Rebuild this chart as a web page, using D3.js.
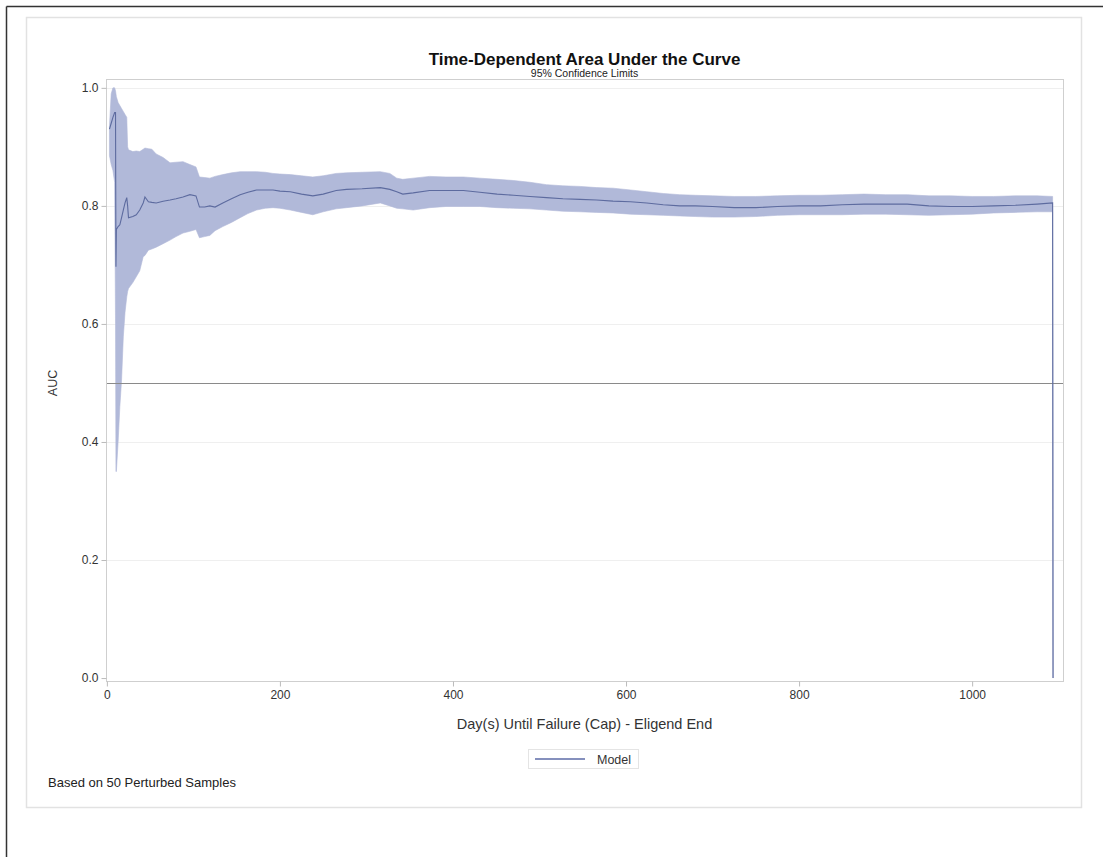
<!DOCTYPE html>
<html>
<head>
<meta charset="utf-8">
<script src="https://cdn.jsdelivr.net/npm/d3@7"></script>
<style>
  body { margin: 0; background: #fff; }
  svg { display: block; font-family: "Liberation Sans", Arial, sans-serif; }
</style>
</head>
<body>
<svg id="chart" width="1103" height="857"></svg>
<script>
// ---- Data ----
const days = [3,5,7,9,10,10.5,11,13,15,17,19,21,23,24,25,30,34,38,42,44,48,52,57,65,73,80,88,96,103,107,113,119,125,134,144,154,163,173,183,192,200,212,225,238,250,265,277,295,316,327,335,342,354,373,392,412,431,451,470,489,508,527,547,566,585,605,624,643,662,680,700,725,750,775,800,825,850,875,900,925,950,975,1000,1025,1050,1075,1093,1093.5];
const auc = [0.93,0.94,0.95,0.958,0.958,0.697,0.76,0.765,0.768,0.78,0.793,0.805,0.814,0.80,0.78,0.782,0.785,0.793,0.805,0.815,0.807,0.806,0.805,0.808,0.81,0.812,0.815,0.819,0.817,0.798,0.798,0.80,0.798,0.805,0.812,0.819,0.823,0.827,0.827,0.827,0.825,0.824,0.82,0.817,0.82,0.826,0.828,0.829,0.831,0.828,0.824,0.82,0.822,0.826,0.826,0.826,0.823,0.82,0.818,0.816,0.814,0.812,0.811,0.81,0.808,0.807,0.805,0.802,0.80,0.80,0.799,0.797,0.797,0.799,0.80,0.80,0.802,0.803,0.803,0.803,0.80,0.799,0.799,0.80,0.801,0.803,0.805,0];
const lower = [0.885,0.87,0.86,0.84,0.60,0.35,0.35,0.40,0.46,0.505,0.578,0.62,0.646,0.655,0.66,0.67,0.68,0.69,0.714,0.716,0.725,0.727,0.73,0.736,0.742,0.748,0.754,0.757,0.76,0.746,0.748,0.75,0.758,0.765,0.772,0.78,0.787,0.793,0.796,0.797,0.796,0.793,0.789,0.785,0.79,0.795,0.797,0.80,0.805,0.80,0.796,0.795,0.793,0.797,0.799,0.799,0.799,0.797,0.796,0.795,0.793,0.791,0.79,0.789,0.788,0.786,0.785,0.784,0.783,0.782,0.781,0.781,0.782,0.784,0.785,0.785,0.785,0.786,0.786,0.785,0.784,0.785,0.786,0.788,0.789,0.79,0.79,0];
const upper = [0.935,0.99,1.0,1.0,0.995,0.99,0.985,0.975,0.97,0.965,0.96,0.955,0.95,0.90,0.895,0.892,0.893,0.892,0.896,0.898,0.897,0.896,0.888,0.882,0.873,0.874,0.875,0.87,0.866,0.849,0.848,0.847,0.85,0.853,0.856,0.858,0.858,0.858,0.857,0.855,0.854,0.853,0.851,0.849,0.851,0.855,0.856,0.857,0.858,0.855,0.847,0.845,0.847,0.85,0.849,0.849,0.847,0.845,0.843,0.84,0.836,0.834,0.833,0.831,0.830,0.827,0.824,0.821,0.819,0.818,0.817,0.816,0.816,0.817,0.818,0.818,0.819,0.82,0.819,0.819,0.817,0.817,0.816,0.816,0.817,0.817,0.816,0];
const xTicks = [0,200,400,600,800,1000];
const yTicks = [0.0,0.2,0.4,0.6,0.8,1.0];
const refLine = [0.5];
const titleText = "Time-Dependent Area Under the Curve";
const subtitleText = "95% Confidence Limits";
const xLabel = "Day(s) Until Failure (Cap) - Eligend End";
const yLabel = "AUC";
const legendLabels = ["Model"];
const footnote = "Based on 50 Perturbed Samples";

// ---- Layout ----
const svg = d3.select("#chart");
const plot = {left: 106, right: 1063, top: 79, bottom: 681};
const x = d3.scaleLinear().domain([-1, 1105]).range([plot.left, plot.right]);
const y = d3.scaleLinear().domain([-0.005, 1.015]).range([plot.bottom, plot.top]);

const rows = days.map((d, i) => ({d, v: auc[i], lo: lower[i], hi: upper[i]}));

// outer frame lines (top & left)
svg.append("line").attr("x1", 6.5).attr("x2", 1103).attr("y1", 6.5).attr("y2", 6.5)
  .attr("stroke", "#333").attr("stroke-width", 1.5);
svg.append("line").attr("x1", 6.5).attr("x2", 6.5).attr("y1", 6.5).attr("y2", 857)
  .attr("stroke", "#333").attr("stroke-width", 1.5);

// panel border
svg.append("rect").attr("x", 26.5).attr("y", 17.5).attr("width", 1055).attr("height", 790)
  .attr("fill", "none").attr("stroke", "#e2e2e2").attr("stroke-width", 1.5);

// title
svg.append("text").attr("x", (plot.left + plot.right) / 2).attr("y", 65)
  .attr("text-anchor", "middle").attr("font-size", 17).attr("font-weight", "bold")
  .attr("fill", "#111").text(titleText);
svg.append("text").attr("x", (plot.left + plot.right) / 2).attr("y", 77)
  .attr("text-anchor", "middle").attr("font-size", 10.5).attr("fill", "#222").text(subtitleText);

// gridlines
svg.append("g").selectAll("line").data(yTicks.filter(t => t > 0)).join("line")
  .attr("x1", plot.left).attr("x2", plot.right)
  .attr("y1", d => Math.round(y(d)) + 0.5).attr("y2", d => Math.round(y(d)) + 0.5)
  .attr("stroke", "#efefef").attr("stroke-width", 1);

// band
const area = d3.area().x(r => x(r.d)).y0(r => y(r.lo)).y1(r => y(r.hi));
svg.append("path").datum(rows).attr("d", area).attr("fill", "#b1b9d9").attr("stroke", "#b1b9d9").attr("stroke-width", 0.6);

// reference line
svg.append("g").selectAll("line").data(refLine).join("line")
  .attr("x1", plot.left).attr("x2", plot.right)
  .attr("y1", d => Math.round(y(d)) + 0.5).attr("y2", d => Math.round(y(d)) + 0.5)
  .attr("stroke", "#8a8a8a").attr("stroke-width", 1);

// line
const line = d3.line().x(r => x(r.d)).y(r => y(r.v));
svg.append("path").datum(rows).attr("d", line).attr("fill", "none")
  .attr("stroke", "#5d6b9f").attr("stroke-width", 1.1);

// plot frame
svg.append("rect").attr("x", plot.left + 0.5).attr("y", plot.top + 0.5)
  .attr("width", plot.right - plot.left).attr("height", plot.bottom - plot.top)
  .attr("fill", "none").attr("stroke", "#cfcfcf").attr("stroke-width", 1);

// axes
const xAxis = d3.axisBottom(x).tickValues(xTicks).tickFormat(d3.format("d")).tickSize(5).tickPadding(4);
const gx = svg.append("g").attr("transform", `translate(0,${plot.bottom + 0.5})`).call(xAxis);
const yAxis = d3.axisLeft(y).tickValues(yTicks).tickFormat(d3.format(".1f")).tickSize(5).tickPadding(3);
const gy = svg.append("g").attr("transform", `translate(${plot.left + 0.5},0)`).call(yAxis);
[gx, gy].forEach(g => {
  g.select(".domain").remove();
  g.selectAll(".tick line").attr("stroke", "#bbb");
  g.selectAll(".tick text").attr("fill", "#333").attr("font-size", 12)
    .attr("font-family", "'Liberation Sans', Arial, sans-serif");
});

// axis labels
svg.append("text").attr("x", (plot.left + plot.right) / 2).attr("y", 729)
  .attr("text-anchor", "middle").attr("font-size", 14.5).attr("fill", "#333").text(xLabel);
svg.append("text").attr("transform", `translate(57,${y(0.5)}) rotate(-90)`)
  .attr("text-anchor", "middle").attr("font-size", 12.5).attr("fill", "#333").text(yLabel);

// legend
const lg = svg.append("g");
lg.append("rect").attr("x", 528.5).attr("y", 749.5).attr("width", 110).attr("height", 19)
  .attr("fill", "none").attr("stroke", "#e4e4e4");
lg.selectAll("line.leg").data(legendLabels).join("line").attr("class", "leg")
  .attr("x1", 535).attr("x2", 585).attr("y1", 759).attr("y2", 759)
  .attr("stroke", "#8590bd").attr("stroke-width", 2);
lg.selectAll("text").data(legendLabels).join("text")
  .attr("x", 597).attr("y", 763.5).attr("font-size", 12.5).attr("fill", "#333").text(d => d);

// footnote
svg.append("text").attr("x", 48).attr("y", 787).attr("font-size", 13).attr("fill", "#222").text(footnote);
</script>
</body>
</html>
